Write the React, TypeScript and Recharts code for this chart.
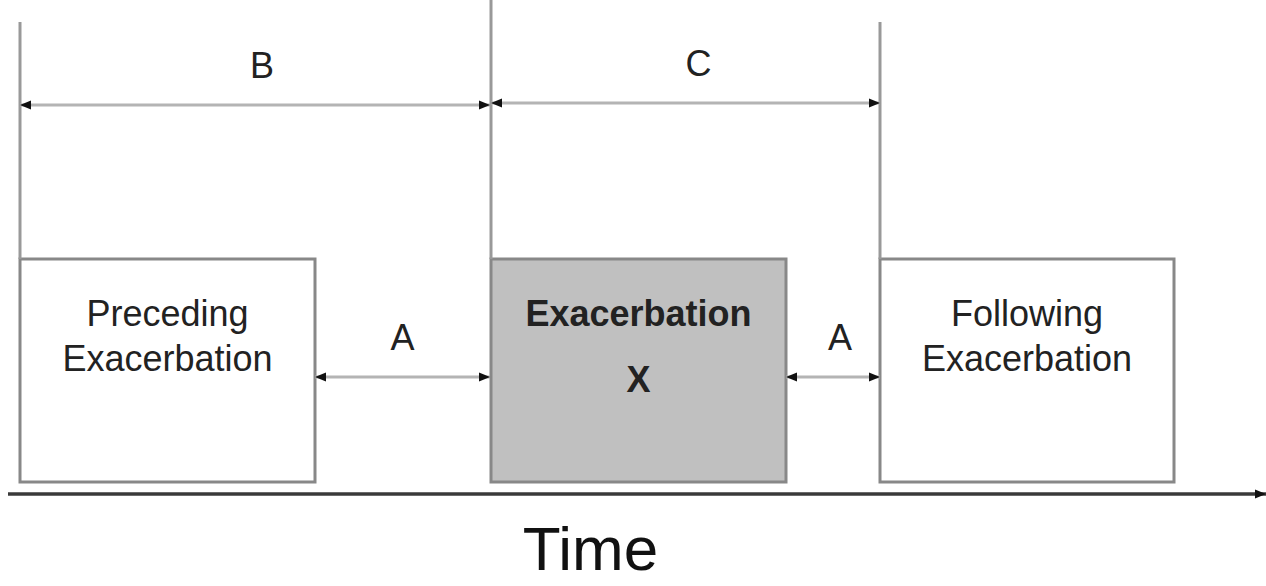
import React from 'react';
import { ComposedChart, XAxis, YAxis, ReferenceArea, ReferenceLine, Line } from 'recharts';

// Episodes on the time line (x in time units, y in height units above the time axis)
const episodeNames = ['Preceding Exacerbation', 'Exacerbation X', 'Following Exacerbation'];
const episodeText = [['Preceding', 'Exacerbation'], ['Exacerbation', 'X'], ['Following', 'Exacerbation']];
const episodeStart = [20, 491, 880];
const episodeEnd = [315, 786, 1174];
const episodeLow = 12;
const episodeHigh = 235;

// Vertical boundary markers at the start of each episode
const boundaryX = [20, 491, 880];
const boundaryTop = [472, 494, 472];

// Long spans between episode starts
const spanLabels = ['B', 'C'];
const spanFrom = [20, 491];
const spanTo = [490, 880];
const spanLevel = [389, 391];

// Gaps between episodes
const gapLabels = ['A', 'A'];
const gapFrom = [315, 786];
const gapTo = [490, 880];
const gapLevel = 117;

const FONT = '"Liberation Sans", Arial, sans-serif';

const arrowLine = (props: any) => (
    <line
        x1={props.x1}
        y1={props.y1}
        x2={props.x2}
        y2={props.y2}
        stroke="#b4b4b4"
        strokeWidth={3}
        markerStart="url(#head)"
        markerEnd="url(#head)"
    />
);

const plainLine = (props: any) => (
    <line x1={props.x1} y1={props.y1} x2={props.x2} y2={props.y2} stroke="#999" strokeWidth={3} />
);

// label sits a bit right of the arrow's middle in the original drawing
const arrowLabel = (text: string, dx = 0) => (props: any) => {
    const vb = props.viewBox;
    if (!vb) return null;
    return (
        <text
            x={vb.x + vb.width / 2 + dx}
            y={vb.y - 27}
            textAnchor="middle"
            fill="#222"
            style={{ fontFamily: FONT, fontSize: 36 }}
        >
            {text}
        </text>
    );
};

const boxLabel = (idx: number) => (props: any) => {
    const vb = props.viewBox;
    if (!vb) return null;
    const lines = episodeText[idx];
    const cx = vb.x + vb.width / 2;
    const isMain = idx === 1;
    const textStyle = { fontFamily: FONT, fontSize: 36, fontWeight: isMain ? 'bold' : 'normal' };
    return (
        <g>
            <text x={cx} y={vb.y + 67} textAnchor="middle" fill="#222" style={textStyle}>
                {lines[0]}
            </text>
            <text x={cx} y={vb.y + (isMain ? 133 : 112)} textAnchor="middle" fill="#222" style={textStyle}>
                {lines[1]}
            </text>
        </g>
    );
};

const timeLabel = (props: any) => {
    const vb = props.viewBox;
    if (!vb) return null;
    return (
        <text
            x={vb.x + vb.width * 0.463}
            y={vb.y + 76}
            textAnchor="middle"
            fill="#111"
            style={{ fontFamily: FONT, fontSize: 62 }}
        >
            Time
        </text>
    );
};

const App: React.FC = () => {
    const data = episodeNames.map((name, i) => ({
        name,
        start: episodeStart[i],
        end: episodeEnd[i],
        low: episodeLow,
        high: episodeHigh,
    }));

    return (
        <div style={{ position: 'absolute', left: 0, top: 0, width: 1266, height: 586, background: '#fff' }}>
            <ComposedChart width={1266} height={586} data={data} margin={{ top: 0, right: 0, bottom: 0, left: 8 }}>
                <defs>
                    <marker
                        id="head"
                        viewBox="0 0 10 10"
                        refX={10}
                        refY={5}
                        markerWidth={11}
                        markerHeight={11}
                        markerUnits="userSpaceOnUse"
                        orient="auto-start-reverse"
                    >
                        <path d="M0,1 L10,5 L0,9 Z" fill="#111" />
                    </marker>
                    <marker
                        id="axisHead"
                        viewBox="0 0 10 10"
                        refX={10}
                        refY={5}
                        markerWidth={11}
                        markerHeight={11}
                        markerUnits="userSpaceOnUse"
                        orient="auto"
                    >
                        <path d="M0,1 L10,5 L0,9 Z" fill="#111" />
                    </marker>
                </defs>
                <XAxis
                    type="number"
                    dataKey="start"
                    domain={[8, 1266]}
                    allowDataOverflow
                    height={92}
                    tick={false}
                    tickLine={false}
                    axisLine={{ stroke: '#3a3a3a', strokeWidth: 3.5, markerEnd: 'url(#axisHead)' }}
                    label={{ content: timeLabel }}
                />
                <YAxis type="number" domain={[0, 494]} allowDataOverflow hide />

                {/* invisible series so the axes get their scales */}
                <Line
                    dataKey="low"
                    stroke="transparent"
                    dot={false}
                    activeDot={false}
                    isAnimationActive={false}
                    legendType="none"
                />

                {boundaryX.map((x, i) => (
                    <ReferenceLine
                        key={`b-${i}`}
                        segment={[{ x, y: episodeHigh }, { x, y: boundaryTop[i] }]}
                        shape={plainLine}
                        ifOverflow="visible"
                    />
                ))}

                {episodeNames.map((name, i) => (
                    <ReferenceArea
                        key={name}
                        x1={episodeStart[i]}
                        x2={episodeEnd[i]}
                        y1={episodeLow}
                        y2={episodeHigh}
                        fill={i === 1 ? '#c0c0c0' : '#ffffff'}
                        fillOpacity={1}
                        stroke="#888"
                        strokeWidth={3}
                        ifOverflow="visible"
                        label={{ content: boxLabel(i) }}
                    />
                ))}

                {spanLabels.map((lab, i) => (
                    <ReferenceLine
                        key={`s-${i}`}
                        segment={[{ x: spanFrom[i], y: spanLevel[i] }, { x: spanTo[i], y: spanLevel[i] }]}
                        shape={arrowLine}
                        ifOverflow="visible"
                        label={{ content: arrowLabel(lab, i === 0 ? 7 : 13) }}
                    />
                ))}

                {gapLabels.map((lab, i) => (
                    <ReferenceLine
                        key={`g-${i}`}
                        segment={[{ x: gapFrom[i], y: gapLevel }, { x: gapTo[i], y: gapLevel }]}
                        shape={arrowLine}
                        ifOverflow="visible"
                        label={{ content: arrowLabel(lab, i === 0 ? 0 : 7) }}
                    />
                ))}
            </ComposedChart>
        </div>
    );
};

export default App;
